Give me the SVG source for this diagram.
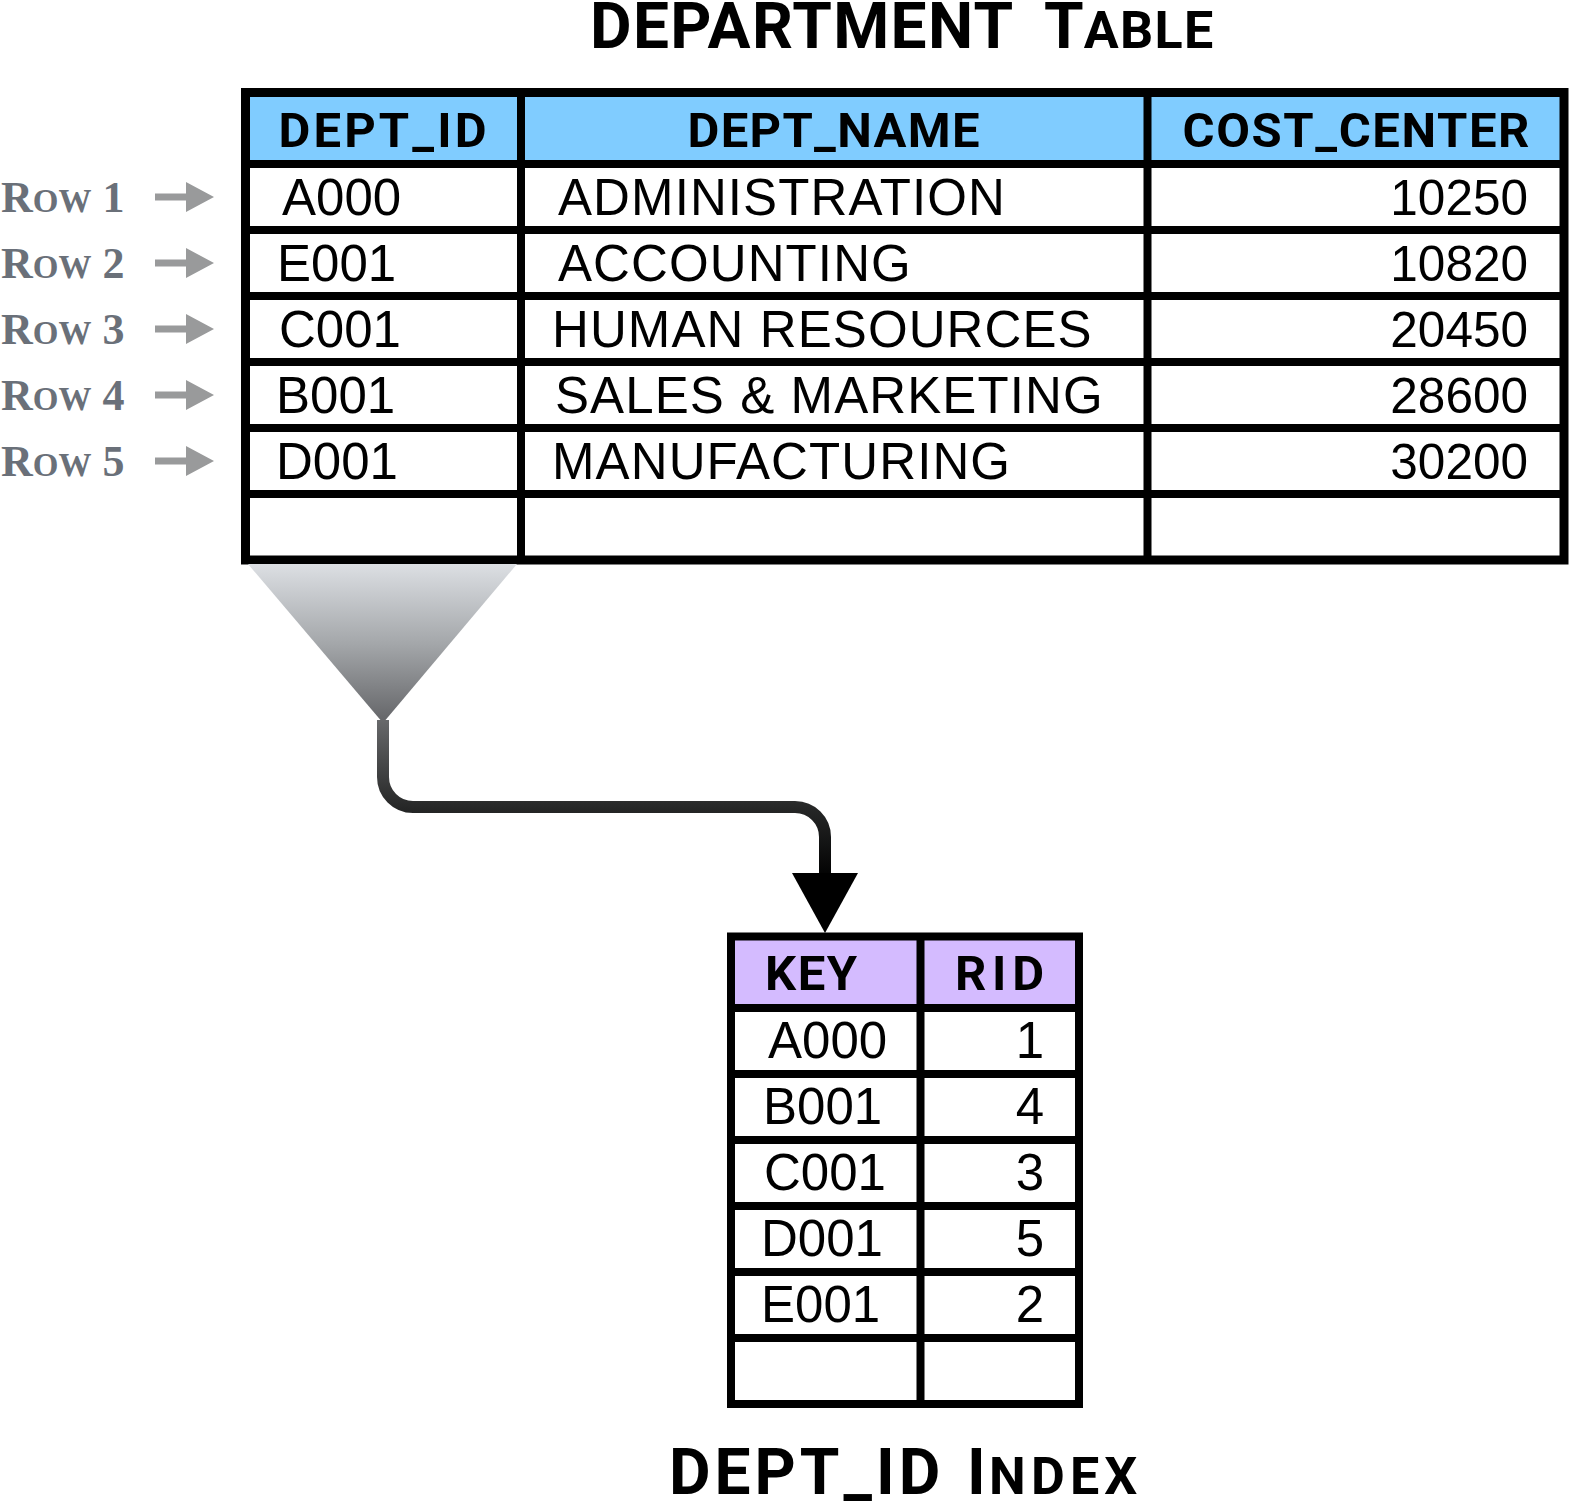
<svg xmlns="http://www.w3.org/2000/svg" width="1569" height="1509" viewBox="0 0 1569 1509">
  <style>
    .title { font-family: Roboto, "Liberation Sans", sans-serif; font-weight: 700; font-size: 64px; fill: #000; }
    .hdr { font-family: Roboto, "Liberation Sans", sans-serif; font-weight: 700; font-size: 49px; fill: #000; text-anchor: middle; }
    .cell { font-family: "Liberation Sans", Arial, sans-serif; font-size: 51px; fill: #000; }
    .name { letter-spacing: 1.1px; }
    .num { text-anchor: end; }
    .cc { font-size: 49.5px; }
    .rowlbl { font-family: "Liberation Serif", "Times New Roman", serif; font-weight: 700; font-size: 44px; fill: #6a7079; }
    .grid { stroke: #000; stroke-width: 8; fill: none; }
    .outer { stroke: #000; stroke-width: 9; fill: none; }
    .rowarrow { fill: #999a9b; }
  </style>
  <defs>
    <linearGradient id="funnelGrad" x1="0" y1="0" x2="0" y2="1">
      <stop offset="0" stop-color="#dcdfe3"/>
      <stop offset="0.5" stop-color="#a4a7aa"/>
      <stop offset="1" stop-color="#636467"/>
    </linearGradient>
    <linearGradient id="lineGrad" gradientUnits="userSpaceOnUse" x1="0" y1="720" x2="0" y2="880">
      <stop offset="0" stop-color="#68696b"/>
      <stop offset="0.55" stop-color="#262727"/>
      <stop offset="1" stop-color="#000"/>
    </linearGradient>
    <marker id="bigArrow" markerUnits="userSpaceOnUse" viewBox="0 -33 60 66" refX="0" refY="0" markerWidth="60" markerHeight="66" orient="auto">
      <path d="M0,-33 L60,0 L0,33 Z" fill="#000"/>
    </marker>
    <path id="rowArrowShape" d="M155,-3.5 H186 V-15 L214,0 L186,15 V3.5 H155 Z"/>
  </defs>

  <rect x="0" y="0" width="1569" height="1509" fill="#fff"/>

  <!-- Title -->
  <text id="title-department" class="title" x="590" y="48"><tspan letter-spacing="1.3">DEPARTMENT</tspan> <tspan x="1044">T</tspan><tspan font-size="52" letter-spacing="1.4">ABLE</tspan></text>

  <!-- Row labels -->
  <g id="row-labels">
    <text class="rowlbl" x="1" y="212">R<tspan font-size="33">OW</tspan> 1</text>
    <text class="rowlbl" x="1" y="278">R<tspan font-size="33">OW</tspan> 2</text>
    <text class="rowlbl" x="1" y="344">R<tspan font-size="33">OW</tspan> 3</text>
    <text class="rowlbl" x="1" y="410">R<tspan font-size="33">OW</tspan> 4</text>
    <text class="rowlbl" x="1" y="476">R<tspan font-size="33">OW</tspan> 5</text>
    <use href="#rowArrowShape" class="rowarrow" transform="translate(0,197)"/>
    <use href="#rowArrowShape" class="rowarrow" transform="translate(0,263)"/>
    <use href="#rowArrowShape" class="rowarrow" transform="translate(0,329)"/>
    <use href="#rowArrowShape" class="rowarrow" transform="translate(0,395)"/>
    <use href="#rowArrowShape" class="rowarrow" transform="translate(0,461)"/>
  </g>

  <!-- Department table -->
  <g id="department-table">
    <rect x="245" y="92" width="1319" height="468" fill="#fff"/>
    <rect x="245" y="92" width="1319" height="72" fill="#80ccff"/>
    <path class="grid" d="M245,164 H1564 M245,230 H1564 M245,296 H1564 M245,362 H1564 M245,428 H1564 M245,494 H1564 M521,92 V560 M1147.5,92 V560"/>
    <rect class="outer" x="245.5" y="92.5" width="1318.5" height="467.5"/>

    <text class="hdr" x="382.5" y="147" textLength="208" lengthAdjust="spacing">DEPT_ID</text>
    <text class="hdr" x="833.5" y="147" textLength="292" lengthAdjust="spacing">DEPT_NAME</text>
    <text class="hdr" x="1356" y="147" textLength="347" lengthAdjust="spacing">COST_CENTER</text>

    <text class="cell" x="282" y="215">A000</text>
    <text class="cell" x="277" y="281">E001</text>
    <text class="cell" x="279" y="347">C001</text>
    <text class="cell" x="276" y="413">B001</text>
    <text class="cell" x="276" y="479">D001</text>

    <text class="cell name" x="558" y="215">ADMINISTRATION</text>
    <text class="cell name" x="558" y="281">ACCOUNTING</text>
    <text class="cell name" x="552" y="347">HUMAN RESOURCES</text>
    <text class="cell name" x="555" y="413">SALES &amp; MARKETING</text>
    <text class="cell name" x="552" y="479">MANUFACTURING</text>

    <text class="cell num cc" x="1528" y="215">10250</text>
    <text class="cell num cc" x="1528" y="281">10820</text>
    <text class="cell num cc" x="1528" y="347">20450</text>
    <text class="cell num cc" x="1528" y="413">28600</text>
    <text class="cell num cc" x="1528" y="479">30200</text>
  </g>

  <!-- Funnel and connector -->
  <g id="connectors">
    <polygon id="funnel" points="248,564 517,564 383,723" fill="url(#funnelGrad)"/>
    <path id="index-arrow" d="M383,720 V777 A30,30 0 0 0 413,807 H795 A30,30 0 0 1 825,837 V873" fill="none" stroke="url(#lineGrad)" stroke-width="12" marker-end="url(#bigArrow)"/>
  </g>

  <!-- Index table -->
  <g id="dept-id-index">
    <rect x="731" y="936.5" width="348" height="467.5" fill="#fff"/>
    <rect x="731" y="936.5" width="348" height="71.5" fill="#d4bbff"/>
    <path class="grid" d="M731,1008 H1079 M731,1074 H1079 M731,1140 H1079 M731,1206 H1079 M731,1272 H1079 M731,1338 H1079 M920.5,936.5 V1404"/>
    <rect class="grid" x="731" y="936.5" width="348" height="467.5"/>

    <text class="hdr" x="811" y="990" textLength="92" lengthAdjust="spacing">KEY</text>
    <text class="hdr" x="999.5" y="990" textLength="89" lengthAdjust="spacing">RID</text>

    <text class="cell" x="768" y="1058">A000</text>
    <text class="cell" x="763" y="1124">B001</text>
    <text class="cell" x="764" y="1190">C001</text>
    <text class="cell" x="761" y="1256">D001</text>
    <text class="cell" x="761" y="1322">E001</text>

    <text class="cell num" x="1044" y="1058">1</text>
    <text class="cell num" x="1044" y="1124">4</text>
    <text class="cell num" x="1044" y="1190">3</text>
    <text class="cell num" x="1044" y="1256">5</text>
    <text class="cell num" x="1044" y="1322">2</text>
  </g>

  <text id="title-index" class="title" x="669" y="1494"><tspan letter-spacing="4">DEPT_ID</tspan> <tspan x="967">I</tspan><tspan x="989" font-size="52" letter-spacing="5.2">NDEX</tspan></text>
</svg>
